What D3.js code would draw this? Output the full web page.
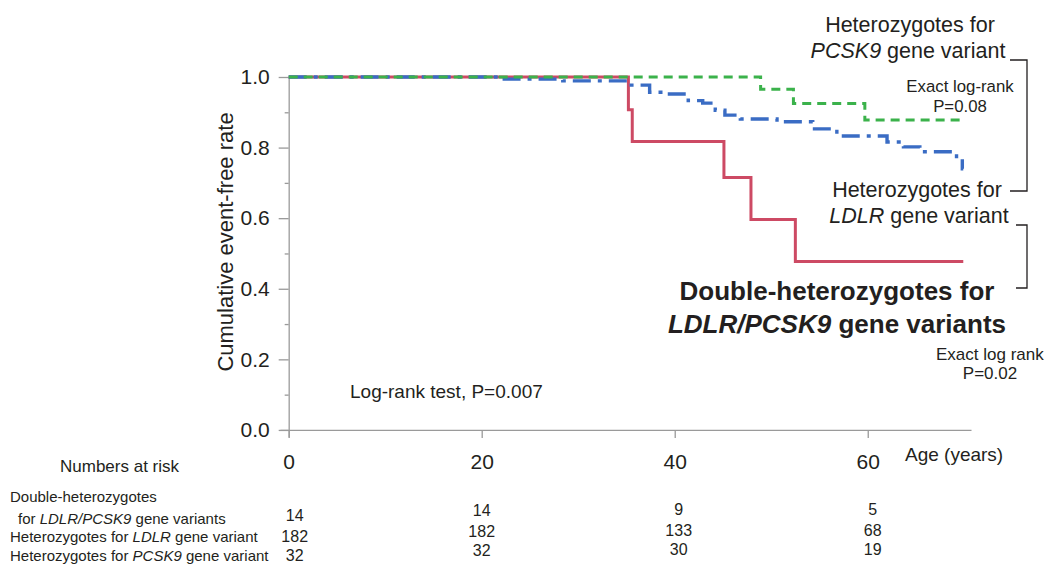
<!DOCTYPE html>
<html>
<head>
<meta charset="utf-8">
<script src="https://cdn.jsdelivr.net/npm/d3@7"></script>
<style>
  body { margin: 0; background: #fff; }
  svg { display: block; font-family: "Liberation Sans", Arial, sans-serif; }
  .axis path, .axis line { stroke: #9a9a9a; stroke-width: 1.3; }
  .axis text { fill: #231f20; font-family: "Liberation Sans", Arial, sans-serif; }
</style>
</head>
<body>
<div id="chart"></div>
<script>
// Kurva Kaplan-Meier: umur (tahun) dan event-free rate tiap langkah
var ageDouble = [0, 35.2, 35.6, 45.1, 47.9, 52.5, 69.9];
var rateDouble = [1.0, 0.907, 0.817, 0.715, 0.596, 0.477, 0.477];

var ageLdlr = [0, 21.9, 28.4, 35.2, 37.4, 38.8, 41.4, 42.9, 44.2, 45.2, 46.8, 50.6, 54.3, 56.8, 62.0, 63.7, 65.4, 69.2, 69.8, 69.9];
var rateLdlr = [1.0, 0.994, 0.989, 0.977, 0.957, 0.952, 0.933, 0.926, 0.906, 0.892, 0.881, 0.873, 0.853, 0.833, 0.816, 0.802, 0.788, 0.768, 0.74, 0.74];

var agePcsk9 = [0, 48.9, 52.3, 59.7, 69.9];
var ratePcsk9 = [1.0, 0.965, 0.925, 0.878, 0.878];

var xTicks = [0, 20, 40, 60];
var yTicks = [0, 0.2, 0.4, 0.6, 0.8, 1.0];
var yMinorTicks = [0.1, 0.3, 0.5, 0.7, 0.9];

// Tabel numbers at risk
var riskAges = [0, 20, 40, 60];
var riskDouble = [14, 14, 9, 5];
var riskLdlr = [182, 182, 133, 68];
var riskPcsk9 = [32, 32, 30, 19];

var riskLabels = [
  [["Heterozygotes for ", false], ["LDLR", true], [" gene variant", false]],
  [["Heterozygotes for ", false], ["PCSK9", true], [" gene variant", false]]
];

var W = 1048, H = 564;
var textColor = "#231f20";

var svg = d3.select("#chart").append("svg")
  .attr("width", W)
  .attr("height", H);

var x = d3.scaleLinear().domain([-0.9, 70.7]).range([280, 971]);
var y = d3.scaleLinear().domain([-0.02, 1]).range([437, 77]);

// Sumbu X
var xAxis = svg.append("g")
  .attr("class", "axis")
  .attr("transform", "translate(0," + y(0) + ")")
  .call(d3.axisBottom(x).tickValues(xTicks).tickSize(8).tickSizeOuter(0).tickPadding(16));
xAxis.selectAll("text").style("font-size", "21px");

// Sumbu Y + minor ticks
var yAxis = svg.append("g")
  .attr("class", "axis")
  .attr("transform", "translate(" + x(0) + ",0)")
  .call(d3.axisLeft(y).tickValues(yTicks).tickSize(10).tickSizeOuter(0).tickPadding(9).tickFormat(d3.format(".1f")));
yAxis.selectAll("text").style("font-size", "21px");

svg.append("g")
  .attr("class", "axis")
  .attr("transform", "translate(" + x(0) + ",0)")
  .call(d3.axisLeft(y).tickValues(yMinorTicks).tickSize(4).tickFormat(""))
  .select(".domain").remove();

// Garis kurva (step)
function stepLine(ages, rates) {
  var pts = ages.map(function (a, i) { return [a, rates[i]]; });
  return d3.line()
    .x(function (d) { return x(d[0]); })
    .y(function (d) { return y(d[1]); })
    .curve(d3.curveStepAfter)(pts);
}

svg.append("path")
  .attr("d", stepLine(ageDouble, rateDouble))
  .attr("fill", "none")
  .attr("stroke", "#cd4a64")
  .attr("stroke-width", 3);

svg.append("path")
  .attr("d", stepLine(ageLdlr, rateLdlr))
  .attr("fill", "none")
  .attr("stroke", "#3a6cc4")
  .attr("stroke-width", 3.4)
  .attr("stroke-dasharray", "18,7,4,7");

svg.append("path")
  .attr("d", stepLine(agePcsk9, ratePcsk9))
  .attr("fill", "none")
  .attr("stroke", "#3bb24b")
  .attr("stroke-width", 3)
  .attr("stroke-dasharray", "9,6");

// Helper teks dengan bagian miring
function addText(parts, px, py, size, anchor, weight) {
  var t = svg.append("text")
    .attr("x", px)
    .attr("y", py)
    .attr("text-anchor", anchor || "start")
    .attr("fill", textColor)
    .style("font-size", size + "px")
    .style("font-weight", weight || "normal");
  parts.forEach(function (p) {
    t.append("tspan")
      .style("font-style", p[1] ? "italic" : "normal")
      .text(p[0]);
  });
  return t;
}

// Label sumbu
svg.append("text")
  .attr("transform", "translate(233,242) rotate(-90)")
  .attr("text-anchor", "middle")
  .attr("fill", textColor)
  .style("font-size", "22px")
  .text("Cumulative event-free rate");

addText([["Age (years)", false]], 905, 461, 19);

// Anotasi kanan
addText([["Heterozygotes for", false]], 910, 32, 21.5, "middle");
addText([["PCSK9", true], [" gene variant", false]], 908, 58, 21.5, "middle");
addText([["Exact log-rank", false]], 960, 92, 16.8, "middle");
addText([["P=0.08", false]], 960, 112, 16.8, "middle");

addText([["Heterozygotes for", false]], 917, 197, 21.5, "middle");
addText([["LDLR", true], [" gene variant", false]], 919, 223, 21.5, "middle");

addText([["Double-heterozygotes for", false]], 837, 300, 26, "middle", "bold");
addText([["LDLR/PCSK9", true], [" gene variants", false]], 837, 333, 26, "middle", "bold");

addText([["Exact log rank", false]], 936, 360, 17);
addText([["P=0.02", false]], 990, 379, 17, "middle");

addText([["Log-rank test, P=0.007", false]], 350, 398, 19);

// Kurung penghubung
svg.append("path")
  .attr("d", "M1010,60H1027V191H1010")
  .attr("fill", "none")
  .attr("stroke", textColor)
  .attr("stroke-width", 1.3);
svg.append("path")
  .attr("d", "M1016,225H1027V288H1016")
  .attr("fill", "none")
  .attr("stroke", textColor)
  .attr("stroke-width", 1.3);

// Tabel numbers at risk
addText([["Numbers at risk", false]], 60, 472, 17);
addText([["Double-heterozygotes", false]], 10, 502, 15);
addText([["for ", false], ["LDLR/PCSK9", true], [" gene variants", false]], 18, 524, 15);
addText(riskLabels[0], 10, 542, 15);
addText(riskLabels[1], 10, 561, 15);

var rowBase = [521, 542, 561];
var colDy = [0, -5, -6, -6];
var colDx = [6, 0, 4, 5];
[riskDouble, riskLdlr, riskPcsk9].forEach(function (row, r) {
  row.forEach(function (n, c) {
    addText([[String(n), false]], x(riskAges[c]) + colDx[c], rowBase[r] + colDy[c], 16, "middle");
  });
});
</script>
</body>
</html>
